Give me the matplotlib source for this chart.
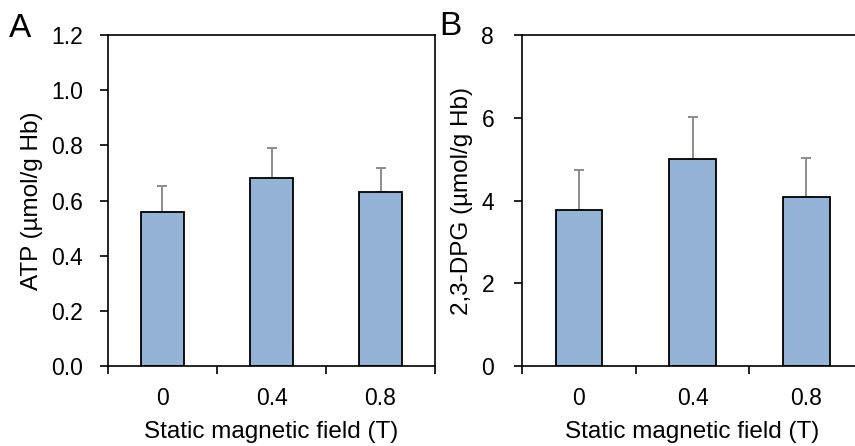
import numpy as np
import matplotlib.pyplot as plt

plt.rcParams['font.family'] = ['Liberation Sans', 'DejaVu Sans']

categories = ['0', '0.4', '0.8']
atp_mean = [0.558, 0.683, 0.632]
atp_err = [0.095, 0.107, 0.085]
dpg_mean = [3.77, 5.01, 4.09]
dpg_err = [0.97, 1.0, 0.93]

bar_color = '#95b3d7'
err_color = '#8c8c8c'

fig = plt.figure(figsize=(8.55, 4.46), dpi=100)
axA = fig.add_axes([0.1263, 0.1794, 0.3825, 0.742])
axB = fig.add_axes([0.6105, 0.1794, 0.399, 0.742])


def draw_panel(ax, means, errs, ylim, yticks, yfmt, ylabel, width, ypad):
    x = np.arange(len(categories))
    ax.bar(x, means, width=width, color=bar_color, edgecolor='black',
           linewidth=1.3, zorder=2)
    ax.errorbar(x, means, yerr=[np.zeros(len(errs)), errs], fmt='none',
                ecolor=err_color, elinewidth=1.4, capsize=3.5, capthick=1.4,
                zorder=1)
    ax.set_xlim(-0.5, len(categories) - 0.5)
    ax.set_ylim(*ylim)
    ax.set_yticks(yticks)
    ax.set_yticklabels([yfmt.format(v) for v in yticks])
    ax.set_xticks(x)
    ax.set_xticklabels(categories)
    ax.set_xticks(np.arange(len(categories) + 1) - 0.5, minor=True)
    ax.tick_params(axis='x', which='major', length=0, pad=15, labelsize=16.5)
    ax.tick_params(axis='x', which='minor', length=6, width=1.2, direction='out')
    ax.tick_params(axis='y', length=6, width=1.2, direction='out', labelsize=16.5, pad=ypad)
    for s in ax.spines.values():
        s.set_linewidth(1.2)
    ax.spines['right'].set_visible(False)
    ax.set_xlabel('Static magnetic field (T)', fontsize=17.5, labelpad=8)
    ax.set_ylabel(ylabel, fontsize=17.5, labelpad=6)


draw_panel(axA, atp_mean, atp_err, (0, 1.2), [0, 0.2, 0.4, 0.6, 0.8, 1.0, 1.2],
           '{:.1f}', 'ATP (µmol/g Hb)', 0.4, 12)
axA.spines['right'].set_visible(True)
draw_panel(axB, dpg_mean, dpg_err, (0, 8), [0, 2, 4, 6, 8],
           '{:.0f}', '2,3-DPG (µmol/g Hb)', 0.41, 14)

fig.text(0.010, 0.937, 'A', fontsize=24, va='center', ha='left')
fig.text(0.514, 0.941, 'B', fontsize=24, va='center', ha='left')

plt.savefig('out.png', dpi=100)
